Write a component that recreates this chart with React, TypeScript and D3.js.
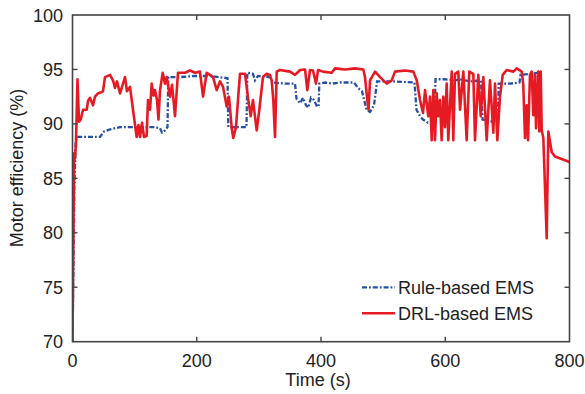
import React from "react";
import * as d3 from "d3";

const ruleTime = [0, 3, 5, 7, 44.3, 50.7, 60.4, 76.5, 108.7, 132.8, 140.9, 144.1, 148.9, 152.9, 154.2, 173, 197.2, 221.3, 249.5, 250.8, 280.1, 281.4, 290.5, 293.8, 298.6, 317.9, 322.7, 342, 358.2, 360.6, 366.3, 371.1, 375.9, 379.6, 383.9, 388.7, 393.6, 396, 397.3, 406.4, 417.7, 430.6, 453.1, 459.6, 466, 473.3, 478.9, 485.3, 490.2, 519.1, 550.5, 553.7, 559.4, 564.2, 572.3, 582.7, 584.3, 599.6, 615.7, 623.8, 639.9, 657.6, 660, 672, 684.9, 686, 704.2, 719.5, 721.2, 736.4, 748.5, 750.1, 751.7];
const ruleEff = [70, 84, 88.2, 88.8, 88.8, 89.3, 89.5, 89.7, 89.7, 89.7, 89.6, 89.2, 89.4, 89.7, 94.3, 94.3, 94.4, 94.4, 94.2, 89.7, 89.7, 94.7, 94.6, 94.0, 94.4, 94.3, 93.8, 93.7, 93.7, 92.3, 91.9, 92.4, 91.7, 91.5, 92.4, 92.2, 91.6, 91.6, 93.7, 93.8, 93.7, 93.8, 93.8, 93.3, 93.0, 91.3, 91.1, 91.7, 93.9, 93.9, 93.8, 91.3, 90.7, 90.4, 90.1, 90.2, 94.1, 94.1, 94.0, 94.1, 93.9, 94.0, 90.4, 90.2, 90.3, 93.7, 93.7, 93.8, 94.5, 94.6, 94.7, 93.6, 92.4];

const drlTime = [0, 1.5, 2.5, 4, 5.5, 8, 10.5, 13.2, 16.9, 22.9, 25, 28.2, 33, 36.2, 41, 45.9, 49.1, 52.3, 60.4, 65.2, 68.4, 71.6, 76.5, 81.3, 84.5, 87.7, 92.6, 97.4, 103.3, 106.2, 108.7, 111.9, 115.1, 119.4, 121.5, 124.8, 127.5, 130.4, 132.8, 136, 138.4, 140.9, 145.2, 148.9, 151.6, 156.9, 160.2, 165, 169.8, 181.1, 189.1, 197.2, 205.2, 210.1, 216, 221.3, 226.2, 232.1, 237.4, 242.3, 248.2, 251.9, 256.3, 258.8, 263.2, 266.4, 269.6, 277.7, 283, 286.8, 290.5, 296.5, 300.7, 306.6, 312.6, 317.9, 320.6, 323.2, 326, 328.7, 334, 350.1, 358.2, 366.3, 374.3, 378, 382.3, 387.1, 392, 395.2, 403.2, 417.2, 422.5, 438.6, 454.7, 468.1, 470.8, 474.5, 476.5, 478.9, 487, 495, 505.8, 513.8, 519.1, 535.2, 548.6, 554.1, 559.4, 564.2, 567.5, 572.7, 575.5, 578.2, 580.8, 583.5, 586.2, 588.8, 591.5, 594.2, 596.9, 599.6, 602.3, 604.9, 610.4, 613, 615.7, 621, 623.8, 629.1, 634.5, 638.7, 645.2, 647.9, 653.2, 657.1, 661.3, 666.7, 672, 677.4, 680.1, 683.8, 688.1, 692.5, 698.9, 709.6, 715, 723.1, 725.6, 728.4, 731.1, 733.2, 736.4, 739.2, 741.7, 744.5, 746.1, 749.8, 751.4, 753.7, 755.3, 757.9, 760.6, 763.3, 765.9, 771.4, 776.7, 800];
const drlEff = [70, 80, 87.3, 86.8, 88, 94.1, 90.2, 90.4, 91.3, 91.3, 92.1, 92.4, 91.7, 92.5, 92.8, 92.9, 93.0, 94.3, 94.5, 94.0, 93.3, 93.9, 92.8, 93.7, 94.3, 93.0, 93.4, 91.3, 88.8, 89.9, 88.8, 90.1, 88.8, 88.9, 92.2, 91.3, 93.7, 92.6, 93.1, 92.2, 90.4, 93.1, 94.7, 93.7, 94.3, 92.5, 93.6, 90.7, 94.7, 94.7, 94.9, 94.7, 94.8, 92.5, 94.7, 94.5, 94.3, 93.1, 93.9, 93.4, 91.6, 92.5, 89.6, 88.7, 89.7, 92.2, 94.6, 94.6, 92.2, 90.7, 92.2, 89.4, 91.3, 94.3, 94.6, 94.5, 94.0, 92.2, 88.8, 94.8, 94.95, 94.8, 94.5, 94.95, 95.0, 93.1, 94.95, 94.9, 93.7, 94.95, 94.8, 94.7, 95.1, 95.0, 95.1, 95.0, 94.3, 92.2, 91.3, 94.0, 94.8, 94.3, 93.7, 94.0, 94.8, 94.9, 94.8, 94.0, 92.2, 91.0, 93.1, 90.7, 92.5, 88.5, 93.1, 88.5, 92.8, 90.7, 92.2, 88.5, 92.5, 89.7, 93.7, 88.5, 94.8, 88.5, 94.6, 94.8, 91.3, 94.8, 88.5, 94.8, 94.6, 88.5, 94.5, 90.7, 94.3, 88.5, 94.0, 89.2, 93.7, 88.5, 92.5, 94.5, 94.95, 94.8, 95.1, 94.8, 93.6, 88.7, 91.7, 88.5, 94.5, 94.8, 90.8, 94.5, 89.6, 94.8, 89.3, 94.8, 89.4, 88.7, 84.1, 79.5, 89.3, 87.4, 87.0, 86.5];

const xTicks = [0, 200, 400, 600, 800];
const yTicks = [70, 75, 80, 85, 90, 95, 100];
const seriesNames = ["Rule-based EMS", "DRL-based EMS"];

const W = 585, H = 394;
const M = { left: 72.5, right: 569.5, top: 15, bottom: 341.7 };
const BLUE = "#2450a6";
const RED = "#e61a22";
const AXIS = "#444";
const FONT = "'Liberation Sans', Arial, sans-serif";

export default function App() {
  const x = d3.scaleLinear().domain([0, 800]).range([M.left, M.right]);
  const y = d3.scaleLinear().domain([70, 100]).range([M.bottom, M.top]);
  const line = d3.line<[number, number]>().x(d => x(d[0])).y(d => y(d[1]));
  const rule = ruleTime.map((t, i) => [t, ruleEff[i]] as [number, number]);
  const drl = drlTime.map((t, i) => [t, drlEff[i]] as [number, number]);
  const tl = 5;
  return (
    <div style={{ position: "fixed", left: 0, top: 0 }}>
      <svg width={W} height={H} style={{ display: "block", background: "#fff" }}>
        <defs>
          <clipPath id="plot">
            <rect x={M.left} y={M.top} width={M.right - M.left} height={M.bottom - M.top} />
          </clipPath>
        </defs>
        <g clipPath="url(#plot)">
          <path d={line(rule) || ""} fill="none" stroke={BLUE} strokeWidth={2.3} strokeDasharray="5,2,1.8,2" />
          <path d={line(drl) || ""} fill="none" stroke={RED} strokeWidth={2.6} strokeLinejoin="round" />
        </g>
        <rect x={M.left} y={M.top} width={M.right - M.left} height={M.bottom - M.top} fill="none" stroke={AXIS} strokeWidth={1.6} />
        {xTicks.slice(1, -1).map(t => (
          <g key={"xt" + t}>
            <line x1={x(t)} x2={x(t)} y1={M.bottom} y2={M.bottom - tl} stroke={AXIS} strokeWidth={1.4} />
            <line x1={x(t)} x2={x(t)} y1={M.top} y2={M.top + tl} stroke={AXIS} strokeWidth={1.4} />
          </g>
        ))}
        {yTicks.slice(1, -1).map(t => (
          <g key={"yt" + t}>
            <line x1={M.left} x2={M.left + tl} y1={y(t)} y2={y(t)} stroke={AXIS} strokeWidth={1.4} />
            <line x1={M.right} x2={M.right - tl} y1={y(t)} y2={y(t)} stroke={AXIS} strokeWidth={1.4} />
          </g>
        ))}
        {xTicks.map(t => (
          <text key={"xl" + t} x={x(t)} y={367} textAnchor="middle" fontFamily={FONT} fontSize={18} fill="#222">{t}</text>
        ))}
        {yTicks.map(t => (
          <text key={"yl" + t} x={63} y={y(t) + 6.5} textAnchor="end" fontFamily={FONT} fontSize={18} fill="#222">{t}</text>
        ))}
        <text x={318} y={386} textAnchor="middle" fontFamily={FONT} fontSize={18} fill="#222">Time (s)</text>
        <text transform={`translate(23,168) rotate(-90)`} textAnchor="middle" fontFamily={FONT} fontSize={18} fill="#222">Motor efficiency (%)</text>
        <line x1={362} x2={395} y1={287.3} y2={287.3} stroke={BLUE} strokeWidth={2.3} strokeDasharray="5,2,1.8,2" />
        <text x={398} y={293.5} fontFamily={FONT} fontSize={18} fill="#222">{seriesNames[0]}</text>
        <line x1={362} x2={395} y1={313.3} y2={313.3} stroke={RED} strokeWidth={2.6} />
        <text x={398} y={319.5} fontFamily={FONT} fontSize={18} fill="#222">{seriesNames[1]}</text>
      </svg>
    </div>
  );
}
